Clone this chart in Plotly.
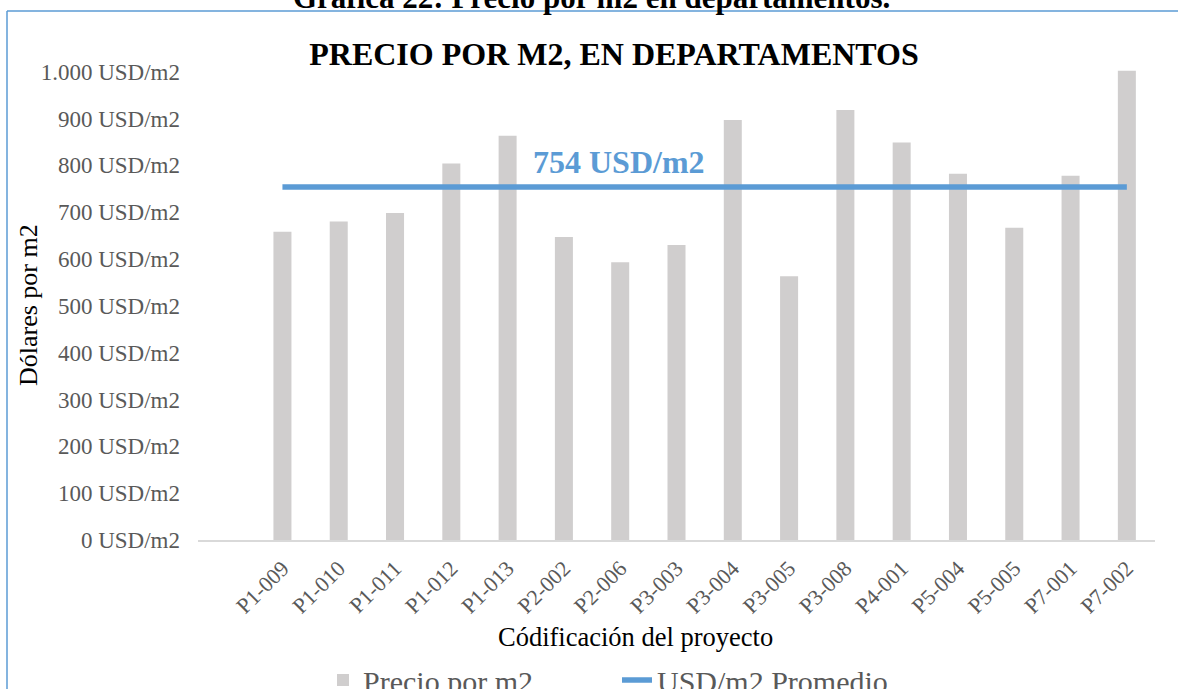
import plotly.graph_objects as go

categories = ["P1-009", "P1-010", "P1-011", "P1-012", "P1-013", "P2-002", "P2-006", "P3-003",
              "P3-004", "P3-005", "P3-008", "P4-001", "P5-004", "P5-005", "P7-001", "P7-002"]
precio_m2 = [658, 680, 698, 804, 863, 647, 593, 630, 897, 563, 918, 849, 782, 667, 778, 1002]
promedio_value = 754
promedio = [promedio_value] * len(categories)
y_ticks = [0, 100, 200, 300, 400, 500, 600, 700, 800, 900, 1000]
y_ticktext = ["0 USD/m2", "100 USD/m2", "200 USD/m2", "300 USD/m2", "400 USD/m2", "500 USD/m2",
              "600 USD/m2", "700 USD/m2", "800 USD/m2", "900 USD/m2", "1.000 USD/m2"]

W, H = 1178, 689
L, R, T, B = 198, 23, 67, 149
pw, ph = W - L - R, H - T - B

def px_x(px):
    return (px - L) / pw

def px_y(py):
    return (H - B - py) / ph

SERIF = "Liberation Serif, Times New Roman, serif"
GRAY = "#595959"
BLUE = "#5B9BD5"

fig = go.Figure()
fig.add_trace(go.Bar(
    x=categories, y=precio_m2, name="Precio por m2",
    marker=dict(color="#D0CECE", line=dict(width=0)), width=0.32,
    legend="legend",
))
fig.add_trace(go.Scatter(
    x=categories, y=promedio, name="USD/m2 Promedio", mode="lines",
    line=dict(color=BLUE, width=5.5), legend="legend2",
))

fig.add_annotation(
    text="<b>%d USD/m2</b>" % promedio_value, xref="paper", yref="y",
    x=px_x(619), y=promedio_value + 53, xanchor="center", yanchor="middle",
    showarrow=False, font=dict(family=SERIF, size=32, color=BLUE),
)
fig.add_annotation(
    text="<b>Gráfica 22: Precio por m2 en departamentos.</b>", xref="paper", yref="paper",
    x=px_x(591), y=px_y(-3), xanchor="center", yanchor="middle",
    showarrow=False, font=dict(family=SERIF, size=31, color="#000000"),
)
fig.add_annotation(
    text="Códificación del proyecto", xref="paper", yref="paper",
    x=px_x(635), y=px_y(637), xanchor="center", yanchor="middle",
    showarrow=False, font=dict(family=SERIF, size=26.5, color="#000000"),
)
fig.add_annotation(
    text="Dólares por m2", xref="paper", yref="paper", textangle=-90,
    x=px_x(28), y=px_y(305), xanchor="center", yanchor="middle",
    showarrow=False, font=dict(family=SERIF, size=26, color="#000000"),
)

border = dict(color=BLUE, width=1.5)
fig.add_shape(type="line", xref="paper", yref="paper",
              x0=px_x(7), x1=px_x(7), y0=px_y(11), y1=px_y(700), line=border)
fig.add_shape(type="line", xref="paper", yref="paper",
              x0=px_x(7), x1=px_x(1190), y0=px_y(11), y1=px_y(11), line=border)

legend_common = dict(orientation="h", yanchor="middle", y=px_y(680), xanchor="left",
                     font=dict(family=SERIF, size=30, color=GRAY), itemwidth=30,
                     bgcolor="rgba(0,0,0,0)", borderwidth=0)

fig.update_layout(
    width=W, height=H,
    margin=dict(l=L, r=R, t=T, b=B, autoexpand=False),
    paper_bgcolor="white", plot_bgcolor="white",
    separators=",.",
    title=dict(text="<b>PRECIO POR M2, EN DEPARTAMENTOS</b>", x=614 / W, xanchor="center",
               y=1 - 54 / H, yanchor="middle",
               font=dict(family=SERIF, size=32, color="#000000")),
    showlegend=True,
    legend=dict(legend_common, x=px_x(323)),
    legend2=dict(legend_common, x=px_x(617)),
    xaxis=dict(
        type="category", range=[-1.5, 15.5], showgrid=False, zeroline=False,
        showline=True, linecolor="#D9D9D9", linewidth=1.5,
        tickangle=-45, tickfont=dict(family=SERIF, size=22, color=GRAY),
        ticks="", ticklabelstandoff=5,
    ),
    yaxis=dict(
        range=[0, 1010], showgrid=False, zeroline=False, showline=False,
        tickvals=y_ticks, ticktext=y_ticktext, ticks="",
        tickfont=dict(family=SERIF, size=23, color=GRAY), ticklabelstandoff=17,
    ),
)

fig.write_html("out.html", config={"displayModeBar": False},
               post_script="document.body.style.margin='0px';")
